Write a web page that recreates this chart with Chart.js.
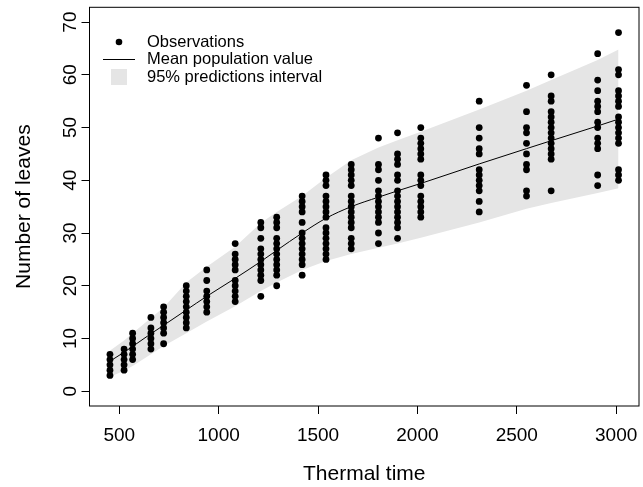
<!DOCTYPE html>
<html>
<head>
<meta charset="utf-8">
<script src="https://cdn.jsdelivr.net/npm/chart.js@4.4.0/dist/chart.umd.min.js"></script>
<style>
    html, body { margin: 0; padding: 0; background: #fff; }
    canvas { display: block; }
</style>
</head>
<body>
<canvas id="myChart" width="643" height="487"></canvas>
<script>
// observation columns (thermal time) and the leaf counts seen at each one
const obsTimes = [453, 524, 567, 659, 723, 837, 940, 1083, 1212, 1292, 1420, 1540, 1667, 1804, 1900, 2017, 2311, 2549, 2673, 2907, 3012];
const obsLeaves = [
    [3, 4, 5, 6, 7],
    [4, 5, 6, 7, 8],
    [6, 7, 8, 9, 10, 11],
    [8, 9, 10, 11, 12, 14],
    [9, 11, 12, 13, 14, 15, 16],
    [12, 13, 14, 15, 16, 17, 18, 19, 20],
    [15, 16, 17, 18, 19, 21, 23],
    [17, 18, 19, 20, 21, 23, 24, 25, 26, 28],
    [18, 21, 22, 23, 24, 25, 26, 27, 29, 31, 32],
    [20, 22, 23, 24, 25, 26, 27, 28, 29, 31, 32, 33],
    [22, 24, 25, 26, 27, 28, 29, 30, 32, 34, 35, 36, 37],
    [25, 26, 27, 28, 29, 30, 31, 33, 34, 35, 36, 37, 39, 40, 41],
    [27, 28, 29, 31, 32, 33, 34, 35, 36, 37, 39, 40, 41, 42, 43],
    [28, 30, 32, 33, 34, 35, 36, 37, 38, 40, 42, 43, 48],
    [29, 31, 32, 33, 34, 35, 36, 37, 38, 40, 41, 43, 44, 45, 49],
    [33, 34, 35, 36, 37, 39, 40, 41, 44, 45, 46, 47, 48, 50],
    [34, 36, 38, 39, 40, 41, 42, 45, 46, 48, 50, 55],
    [37, 38, 42, 43, 45, 47, 49, 50, 53, 58],
    [38, 44, 45, 46, 47, 48, 49, 50, 51, 52, 53, 55, 56, 60],
    [39, 41, 46, 47, 48, 50, 51, 53, 54, 55, 57, 59, 64],
    [40, 41, 42, 47, 48, 49, 50, 51, 52, 54, 55, 56, 57, 60, 61, 68]
];

// fitted mean curve and 95% prediction band
const curveTimes = [445, 524, 567, 659, 723, 837, 940, 1083, 1212, 1292, 1420, 1540, 1667, 1804, 1900, 2017, 2311, 2549, 2673, 2907, 3012];
const meanLeaves = [5.5, 7.4, 8.5, 10.9, 12.5, 15.4, 18.0, 21.4, 24.6, 26.7, 30.0, 32.8, 35.0, 36.8, 38.0, 39.4, 43.1, 46.0, 47.5, 50.3, 51.6];
const lowerLeaves = [2.6, 3.9, 4.8, 7.0, 8.6, 11.0, 13.2, 16.1, 19.0, 20.6, 23.0, 24.7, 26.0, 27.2, 28.0, 29.1, 32.0, 34.6, 35.7, 37.6, 38.5];
const upperLeaves = [7.5, 9.6, 11.0, 13.9, 15.9, 20.6, 23.6, 27.4, 31.9, 34.0, 37.0, 40.5, 43.8, 46.2, 47.6, 49.2, 53.4, 57.0, 59.0, 62.8, 64.8];

const xTicks = [500, 1000, 1500, 2000, 2500, 3000];
const yTicks = [0, 10, 20, 30, 40, 50, 60, 70];
const legendLabels = ['Observations', 'Mean population value', '95% predictions interval'];

document.addEventListener('DOMContentLoaded', () => {
    const ctx = document.getElementById('myChart').getContext('2d');
    const fontFamily = '"Liberation Sans", Arial, Helvetica, sans-serif';
    const bandColor = '#e5e5e5';

    const points = [];
    obsTimes.forEach((t, i) => {
        obsLeaves[i].forEach(v => points.push({ x: t, y: v }));
    });
    const toXY = arr => curveTimes.map((t, i) => ({ x: t, y: arr[i] }));

    // R style axes: box, outward ticks, rotated y labels, legend without frame
    const rAxes = {
        id: 'rAxes',
        afterDraw(chart) {
            const c = chart.ctx;
            const a = chart.chartArea;
            const xs = chart.scales.x;
            const ys = chart.scales.y;
            c.save();
            c.strokeStyle = '#000';
            c.lineWidth = 1;
            c.strokeRect(a.left, a.top, a.right - a.left, a.bottom - a.top);

            c.fillStyle = '#000';
            c.font = '19px ' + fontFamily;
            c.textAlign = 'center';
            c.textBaseline = 'alphabetic';
            xTicks.forEach(v => c.fillText(String(v), xs.getPixelForValue(v), 441));

            yTicks.forEach(v => {
                c.save();
                c.translate(76, ys.getPixelForValue(v));
                c.rotate(-Math.PI / 2);
                c.fillText(String(v), 0, 0);
                c.restore();
            });

            // legend
            c.beginPath();
            c.arc(119, 42, 3.3, 0, Math.PI * 2);
            c.fill();
            c.beginPath();
            c.moveTo(103, 59.5);
            c.lineTo(135, 59.5);
            c.stroke();
            c.fillStyle = bandColor;
            c.fillRect(111, 69, 16, 16);
            c.fillStyle = '#000';
            c.font = '16.5px ' + fontFamily;
            c.textAlign = 'left';
            c.textBaseline = 'middle';
            [42, 59.5, 77].forEach((y, i) => c.fillText(legendLabels[i], 147, y));
            c.restore();
        }
    };

    new Chart(ctx, {
        type: 'line',
        data: {
            datasets: [
                {
                    label: 'Observations',
                    data: points,
                    showLine: false,
                    pointRadius: 3.4,
                    pointBackgroundColor: '#000',
                    pointBorderWidth: 0,
                    order: 0
                },
                {
                    label: 'Mean population value',
                    data: toXY(meanLeaves),
                    borderColor: '#000',
                    borderWidth: 1,
                    pointRadius: 0,
                    cubicInterpolationMode: 'monotone',
                    fill: false,
                    order: 1
                },
                {
                    label: '95% upper',
                    data: toXY(upperLeaves),
                    borderWidth: 0,
                    borderColor: 'rgba(0,0,0,0)',
                    backgroundColor: bandColor,
                    pointRadius: 0,
                    tension: 0,
                    fill: '+1',
                    order: 2
                },
                {
                    label: '95% lower',
                    data: toXY(lowerLeaves),
                    borderWidth: 0,
                    borderColor: 'rgba(0,0,0,0)',
                    pointRadius: 0,
                    tension: 0,
                    fill: false,
                    order: 3
                }
            ]
        },
        options: {
            responsive: false,
            animation: false,
            layout: { padding: { top: 7.3, right: 0.7, left: 0, bottom: 0 } },
            plugins: {
                legend: { display: false },
                tooltip: { enabled: false }
            },
            scales: {
                x: {
                    type: 'linear',
                    min: 350,
                    max: 3115,
                    afterBuildTicks: s => { s.ticks = xTicks.map(v => ({ value: v })); },
                    afterFit: s => { s.height = 81; },
                    ticks: { display: false },
                    border: { display: false },
                    grid: { drawOnChartArea: false, drawTicks: true, tickLength: 8, color: '#000', lineWidth: 1 },
                    title: {
                        display: true,
                        text: 'Thermal time',
                        color: '#000',
                        font: { family: fontFamily, size: 21 },
                        padding: { top: 0, bottom: 0 }
                    }
                },
                y: {
                    min: -2.8,
                    max: 72.8,
                    afterBuildTicks: s => { s.ticks = yTicks.map(v => ({ value: v })); },
                    afterFit: s => { s.width = 89.5; },
                    ticks: { display: false },
                    border: { display: false },
                    grid: { drawOnChartArea: false, drawTicks: true, tickLength: 8, color: '#000', lineWidth: 1 },
                    title: {
                        display: true,
                        text: 'Number of leaves',
                        color: '#000',
                        font: { family: fontFamily, size: 21 },
                        padding: { top: 12, bottom: 0 }
                    }
                }
            }
        },
        plugins: [rAxes]
    });
});
</script>
</body>
</html>
